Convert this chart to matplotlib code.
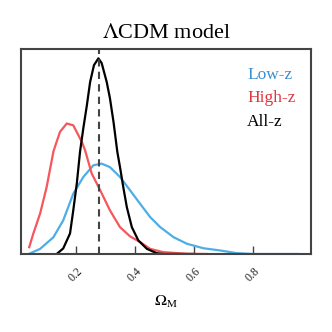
import matplotlib
matplotlib.use('Agg')
import matplotlib.pyplot as plt

plt.rcParams['font.family'] = 'Liberation Serif'
plt.rcParams['mathtext.fontset'] = 'stix'

# posterior curves (normalised height)
low_x = [0.043, 0.080, 0.125, 0.158, 0.192, 0.226, 0.260, 0.288, 0.316, 0.350,
         0.384, 0.418, 0.452, 0.486, 0.531, 0.576, 0.632, 0.689, 0.745, 0.801, 0.95]
low_y = [0.001, 0.025, 0.082, 0.164, 0.294, 0.376, 0.433, 0.441, 0.424, 0.376,
         0.311, 0.245, 0.180, 0.131, 0.082, 0.050, 0.028, 0.017, 0.004, 0.0, 0.0]

high_x = [0.043, 0.057, 0.080, 0.102, 0.125, 0.147, 0.170, 0.192, 0.221, 0.232,
          0.254, 0.283, 0.316, 0.350, 0.384, 0.418, 0.452, 0.496, 0.576, 0.644]
high_y = [0.033, 0.100, 0.198, 0.327, 0.501, 0.596, 0.637, 0.628, 0.547, 0.506,
          0.394, 0.311, 0.213, 0.131, 0.086, 0.058, 0.025, 0.009, 0.001, 0.0]

all_x = [0.136, 0.158, 0.181, 0.192, 0.204, 0.215, 0.226, 0.238, 0.249, 0.262,
         0.277, 0.288, 0.305, 0.316, 0.328, 0.341, 0.350, 0.361, 0.373, 0.390,
         0.412, 0.441, 0.474, 0.496, 0.60]
all_y = [0.0, 0.027, 0.100, 0.213, 0.345, 0.501, 0.614, 0.726, 0.840, 0.922,
         0.955, 0.932, 0.840, 0.760, 0.645, 0.498, 0.424, 0.327, 0.229, 0.131,
         0.066, 0.025, 0.004, 0.0, 0.0]

best_fit = 0.278
ticks = [0.2, 0.4, 0.6, 0.8]

fig = plt.figure(figsize=(3.32, 3.32), dpi=100)
ax = fig.add_axes([0.063, 0.235, 0.874, 0.617])

ax.plot(low_x, low_y, color='#4daee6', lw=1.6)
ax.plot(high_x, high_y, color='#f5575c', lw=1.6)
ax.plot(all_x, all_y, color='black', lw=1.6)
ax.axvline(best_fit, color='#444444', lw=1.5, ls=(0, (3.5, 2.5)))

ax.text(0.78, 0.855, 'Low-z', color='#3a8fd0', fontsize=12.5, transform=ax.transAxes)
ax.text(0.78, 0.74, 'High-z', color='#e0353f', fontsize=12.5, transform=ax.transAxes)
ax.text(0.78, 0.625, 'All-z', color='black', fontsize=12.5, transform=ax.transAxes)

ax.set_xlim(0.015, 0.996)
ax.set_ylim(0, 1)
ax.set_xticks(ticks)
ax.set_xticklabels([str(t) for t in ticks], rotation=45, ha='center')
ax.set_yticks([])
ax.tick_params(axis='x', direction='in', length=6, width=1, color='#444444',
               labelsize=8.5, labelcolor='#222222', pad=8)
for s in ax.spines.values():
    s.set_color('#444444')
    s.set_linewidth(1.5)

ax.set_xlabel(r'$\Omega_{\rm M}$', fontsize=11.5, labelpad=7)
ax.set_title(r'$\Lambda$CDM model', fontsize=16, pad=8)

fig.savefig('out.png', dpi=100)
